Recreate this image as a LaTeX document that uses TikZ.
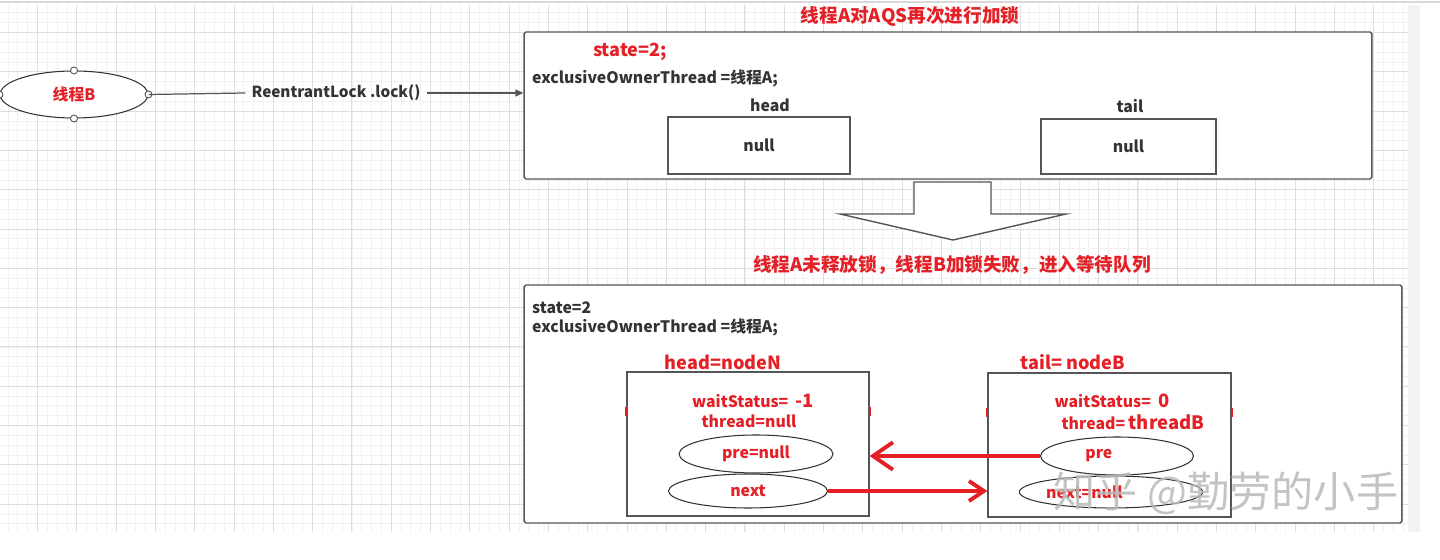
\documentclass[tikz,border=0pt]{standalone}
\usepackage{fontspec}
\setmainfont{Noto Sans CJK SC}
\usetikzlibrary{arrows.meta,positioning,shapes.geometric}
\definecolor{lockred}{RGB}{228,32,38}
\definecolor{inkgray}{RGB}{51,51,51}
\definecolor{edgegray}{RGB}{85,85,85}
\definecolor{gridminor}{RGB}{241,241,241}
\definecolor{gridmajor}{RGB}{222,222,222}

\begin{document}
\begin{tikzpicture}[x=0.02cm,y=-0.02cm,text=inkgray,font=\bfseries\fontsize{9}{11}\selectfont,
  panel/.style={draw=edgegray,fill=white,rounded corners=1pt,line width=0.8pt,inner sep=0pt},
  cell/.style={draw=edgegray,fill=white,line width=0.7pt,inner sep=0pt},
  oval/.style={ellipse,draw=inkgray,fill=white,line width=0.6pt,inner sep=0pt},
  redtxt/.style={text=lockred},
  bigred/.style={text=lockred,font=\bfseries\fontsize{10.3}{12}\selectfont},
  headline/.style={text=lockred,font=\bfseries\fontsize{10.6}{13}\selectfont},
  redlink/.style={draw=lockred,line width=2.2pt},
  redmark/.style={draw=lockred,line width=1.2pt}]
\useasboundingbox (0,0) rectangle (1440,560);
% grid paper
\begin{scope}
\clip (0,5) rectangle (1408,532);
\foreach \i in {0,...,143} \draw[gridminor,line width=0.4pt] ({8+9.825*\i},5) -- ({8+9.825*\i},532);
\foreach \i in {0,...,52} \draw[gridminor,line width=0.4pt] (0,{12.85+9.825*\i}) -- (1408,{12.85+9.825*\i});
\foreach \i in {0,...,34} \draw[gridmajor,line width=0.5pt] ({37.5+39.3*\i},5) -- ({37.5+39.3*\i},532);
\foreach \i in {0,...,12} \draw[gridmajor,line width=0.5pt] (0,{32.5+39.3*\i}) -- (1408,{32.5+39.3*\i});
\end{scope}
\fill[gray!10] (1408,5) rectangle (1420,532);
\draw[gray!30,line width=1pt] (0,2) -- (1440,2);

% thread B and the lock call
\node[oval,minimum width=2.96cm,minimum height=0.94cm,redtxt,font=\bfseries\fontsize{9}{10}\selectfont] (tb) at (74,94.5) {线程B};
\foreach \a in {north,south,east,west} \draw[edgegray,fill=white,line width=0.5pt] (tb.\a) circle (2pt);
\node[font=\bfseries\fontsize{8.7}{10}\selectfont] (call) at (336,93) {ReentrantLock .lock()};

% first state
\node[headline] (t1) at (910,16) {线程A对AQS再次进行加锁};
\node[panel,minimum width=16.96cm,minimum height=2.94cm] (sa) at (948,105.5) {};
\node[bigred] (sa-state) at (630,52) {state=2;};
\node[anchor=west] (sa-owner) at (526,78) {exclusiveOwnerThread =线程A;};
\node (ha-lbl) at (770,105) {head};
\node[cell,minimum width=3.64cm,minimum height=1.14cm] (ha) at (759,145.5) {null};
\node (ta-lbl) at (1130,106) {tail};
\node[cell,minimum width=3.5cm,minimum height=1.1cm] (ta) at (1128.5,146.5) {null};

\draw[edgegray,line width=0.7pt] (tb.east) -- (call.west);
\draw[edgegray,line width=0.7pt,-{Triangle[length=4.5pt,width=4pt]}] (call.east) -- (call.east -| sa.west);

% big arrow down
\draw[edgegray,fill=white,line width=0.8pt] (914,182) -- (991,182) -- (991,214) -- (1066,214) -- (953,240) -- (840,214) -- (914,214) -- cycle;

% second state
\node[headline] (t2) at (952,265) {线程A未释放锁，线程B加锁失败，进入等待队列};
\node[panel,minimum width=17.56cm,minimum height=4.76cm] (sb) at (963,404) {};
\node[anchor=west] (sb-state) at (526,308) {state=2};
\node[anchor=west] (sb-owner) at (526,327) {exclusiveOwnerThread =线程A;};

\node[bigred] (hn-lbl) at (723,362) {head=nodeN};
\node[cell,minimum width=4.84cm,minimum height=2.88cm] (hn) at (748,444) {};
\node[redtxt] (hn-ws) at (753,401) {waitStatus=\ \ {\fontsize{10.5}{12}\selectfont -1}};
\node[redtxt] (hn-th) at (749,421) {thread=null};
\node[oval,redtxt,minimum width=3.08cm,minimum height=0.76cm] (hn-pre) at (756,454) {pre=null};
\node[oval,redtxt,minimum width=3.18cm,minimum height=0.68cm] (hn-next) at (748,491) {next};

\node[bigred] (tn-lbl) at (1073,362) {tail= nodeB};
\node[cell,minimum width=4.86cm,minimum height=2.88cm] (tn) at (1109.5,445) {};
\node[redtxt] (tn-ws) at (1112,401) {waitStatus=\ \ {\fontsize{10.5}{12}\selectfont 0}};
\node[redtxt] (tn-th) at (1133,422) {thread= {\fontsize{10.5}{12}\selectfont threadB}};
\node[oval,redtxt,minimum width=3.06cm,minimum height=0.76cm] (tn-pre) at (1117,456) {\makebox[4em][l]{pre}};
\node[oval,redtxt,minimum width=3.2cm,minimum height=0.64cm] (tn-next) at (1111,492) {\makebox[8.2em][l]{next=null}};

\foreach \n in {hn,tn} {
  \draw[redmark] (\n.north west) ++(0,36) -- ++(0,9);
  \draw[redmark] (\n.north east) ++(0,36) -- ++(0,9);
}
\draw[redlink,-{Straight Barb[length=4mm,width=5.5mm]}] (tn-pre.west) -- (tn-pre.west -| hn.east);
\draw[redlink,-{Straight Barb[length=3mm,width=4mm]}] (hn-next.east) -- (hn-next.east -| tn.west);

\node[text=gray!55,opacity=0.85,font=\fontsize{24}{25}\selectfont] (mark) at (1226,493) {知乎 @勤劳的小手};
\end{tikzpicture}
\end{document}
